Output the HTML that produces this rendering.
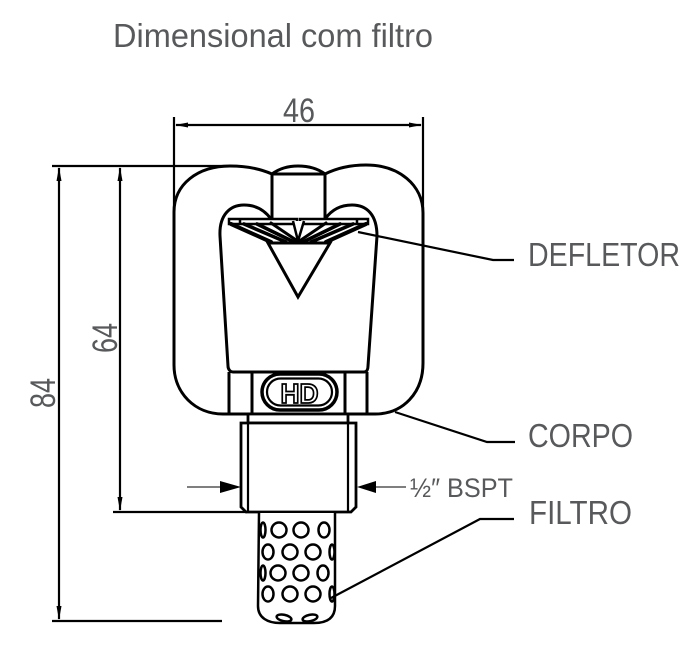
<!DOCTYPE html>
<html>
<head>
<meta charset="utf-8">
<style>
html,body{margin:0;padding:0;background:#fff;}
svg{display:block;}
text{font-family:"Liberation Sans Narrow","Liberation Sans",sans-serif;fill:#58595b;}
</style>
</head>
<body>
<svg width="700" height="650" viewBox="0 0 700 650" xmlns="http://www.w3.org/2000/svg">
<rect width="700" height="650" fill="#fff"/>

<!-- Title -->
<text x="113" y="47" font-size="33" textLength="320" lengthAdjust="spacingAndGlyphs">Dimensional com filtro</text>

<!-- Dimension 46 -->
<g stroke="#000" stroke-width="2.2" fill="none">
  <line x1="174" y1="117" x2="174" y2="212"/>
  <line x1="423" y1="117" x2="423" y2="213"/>
  <line x1="176" y1="125" x2="421" y2="125"/>
</g>
<polygon points="175,125 188,122.5 188,127.5" fill="#000"/>
<polygon points="422,125 409,122.5 409,127.5" fill="#000"/>
<text x="283" y="122" font-size="34" textLength="32" lengthAdjust="spacingAndGlyphs">46</text>

<!-- Left dimensions 84 / 64 -->
<g stroke="#000" stroke-width="2.2" fill="none">
  <line x1="52" y1="166" x2="228" y2="166"/>
  <line x1="59" y1="168" x2="59" y2="619"/>
  <line x1="120" y1="168" x2="120" y2="510"/>
  <line x1="113" y1="512" x2="247" y2="512"/>
  <line x1="52" y1="621" x2="222" y2="621"/>
</g>
<polygon points="59,167 56.5,181 61.5,181" fill="#000"/>
<polygon points="59,620 56.5,606 61.5,606" fill="#000"/>
<polygon points="120,167 117.5,181 122.5,181" fill="#000"/>
<polygon points="120,511 117.5,497 122.5,497" fill="#000"/>
<text transform="translate(55,393) rotate(-90)" x="0" y="0" font-size="35" text-anchor="middle" textLength="30" lengthAdjust="spacingAndGlyphs">84</text>
<text transform="translate(117,338) rotate(-90)" x="0" y="0" font-size="35" text-anchor="middle" textLength="30" lengthAdjust="spacingAndGlyphs">64</text>

<!-- Body outer -->
<path d="M174,365 L174,212 C174,184 198,166 230,166 C250,166 263,170 272,174 C280,168 290,166 298,166 C307,166 317,168 325,174 C335,169 349,165 366,165 C399,165 423,185 423,213 L423,363 C423,393 403,414 375,414 L223,414 C195,414 174,393 174,365 Z" fill="#fff" stroke="#000" stroke-width="3"/>

<!-- Boss -->
<g stroke="#000" stroke-width="3" fill="none">
  <line x1="272" y1="174" x2="272" y2="221"/>
  <line x1="325" y1="174" x2="325" y2="221"/>
  <line x1="272" y1="174" x2="325" y2="174"/>
</g>

<!-- Inner frame -->
<path d="M271,219 C266,212 258,205 244,205 C230,205 219,215 220,236 L228,366 C228,369 230,372 233,372 L364,372 C367,372 368,369 368,366 L377,236 C377,215 367,205 352,205 C338,205 330,212 325,219" fill="none" stroke="#000" stroke-width="3"/>

<!-- Deflector blades -->
<g stroke="#000" stroke-width="2.5" fill="#fff">
  <rect x="229" y="219" width="68" height="5"/>
  <rect x="300" y="219" width="68" height="5"/>
</g>
<g stroke="#000" stroke-linecap="round">
  <line x1="231" y1="224" x2="271" y2="242" stroke-width="4"/>
  <line x1="244" y1="224" x2="286" y2="242" stroke-width="3.5"/>
  <line x1="257" y1="224" x2="294" y2="242" stroke-width="3.5"/>
  <line x1="271" y1="223" x2="299" y2="242" stroke-width="3"/>
  <line x1="366" y1="224" x2="326" y2="242" stroke-width="4"/>
  <line x1="353" y1="224" x2="311" y2="242" stroke-width="3.5"/>
  <line x1="340" y1="224" x2="303" y2="242" stroke-width="3.5"/>
  <line x1="326" y1="223" x2="298" y2="242" stroke-width="3"/>
</g>
<g stroke="#000" stroke-width="2.5" fill="#fff">
  <polyline points="293,221 298,241 304,221"/>
  <line x1="240" y1="219" x2="240" y2="224"/>
  <line x1="357" y1="219" x2="357" y2="224"/>
</g>

<!-- Triangle -->
<polygon points="268,243 330,243 298,297" fill="#fff" stroke="#000" stroke-width="3" stroke-linejoin="miter"/>

<!-- Bottom strip -->
<g stroke="#000" stroke-width="3" fill="none">
  <line x1="229" y1="372" x2="229" y2="414"/>
  <line x1="252" y1="372" x2="252" y2="414"/>
  <line x1="345" y1="372" x2="345" y2="414"/>
  <line x1="367" y1="372" x2="367" y2="414"/>
</g>

<!-- HD logo -->
<rect x="262" y="374" width="75" height="36" rx="18" fill="#fff" stroke="#000" stroke-width="3.5"/>
<rect x="267" y="378.5" width="65" height="27" rx="13.5" fill="none" stroke="#000" stroke-width="2.2"/>
<text x="299.5" y="403" font-weight="bold" font-size="28" text-anchor="middle" textLength="38" lengthAdjust="spacingAndGlyphs" style="fill:#fff;stroke:#000;stroke-width:1.8;font-family:'Liberation Sans',sans-serif">HD</text>

<!-- Collar + Nut -->
<g stroke="#000" stroke-width="2.8" fill="#fff">
  <rect x="248" y="414" width="100" height="9" fill="#fff"/>
  <path d="M241,423 L356,423 L356,507 L351,512 L246,512 L241,507 Z"/>
</g>
<g stroke="#000" stroke-width="2.2" fill="none">
  <line x1="248" y1="423" x2="248" y2="512"/>
  <line x1="348" y1="423" x2="348" y2="512"/>
</g>

<!-- BSPT arrows -->
<g stroke="#555" stroke-width="1.5">
  <line x1="187" y1="487" x2="222" y2="487"/>
  <line x1="374" y1="487" x2="406" y2="487"/>
</g>
<polygon points="241,487 220,481 220,493" fill="#000"/>
<polygon points="357,487 376,481 376,493" fill="#000"/>
<text x="410" y="497" font-size="27" textLength="103" lengthAdjust="spacingAndGlyphs">½″ BSPT</text>

<!-- Filter -->
<path d="M259,513 L258,606 C258,618 268,623 280,623 L314,623 C327,623 335,618 335,606 L335,513" fill="#fff" stroke="#000" stroke-width="2.5"/>
<g fill="#fff" stroke="#000" stroke-width="2.5">
  <ellipse cx="263" cy="530" rx="2.5" ry="7.5"/>
  <circle cx="279" cy="530" r="7.5"/>
  <circle cx="301" cy="530" r="7.5"/>
  <ellipse cx="324" cy="530" rx="5.5" ry="7.5"/>

  <ellipse cx="268" cy="552" rx="5.5" ry="7.5"/>
  <circle cx="290" cy="552" r="7.5"/>
  <circle cx="313" cy="552" r="7.5"/>
  <ellipse cx="332" cy="552" rx="2.5" ry="7.5"/>

  <ellipse cx="263" cy="573" rx="2.5" ry="7.5"/>
  <circle cx="278" cy="573" r="7.5"/>
  <circle cx="301" cy="573" r="7.5"/>
  <ellipse cx="323" cy="573" rx="5.5" ry="7.5"/>

  <ellipse cx="268" cy="594" rx="5.5" ry="7.5"/>
  <circle cx="290" cy="594" r="7.5"/>
  <circle cx="313" cy="594" r="7.5"/>
  <ellipse cx="332" cy="594" rx="2.5" ry="7.5"/>

  <ellipse cx="284" cy="618" rx="7.5" ry="3.2" transform="rotate(12 284 618)"/>
  <ellipse cx="310" cy="618" rx="7.5" ry="3.2" transform="rotate(-12 310 618)"/>
</g>

<!-- Leaders -->
<g stroke="#000" stroke-width="2.2" fill="none">
  <polyline points="358,232 493,260 514,260"/>
  <polyline points="395,412 487,442 515,442"/>
  <polyline points="331,598 480,519 514,519"/>
</g>

<!-- Labels -->
<text x="528" y="266" font-size="33" textLength="152" lengthAdjust="spacingAndGlyphs">DEFLETOR</text>
<text x="528" y="447" font-size="33" textLength="105" lengthAdjust="spacingAndGlyphs">CORPO</text>
<text x="529" y="524" font-size="33" textLength="103" lengthAdjust="spacingAndGlyphs">FILTRO</text>
</svg>
</body>
</html>
